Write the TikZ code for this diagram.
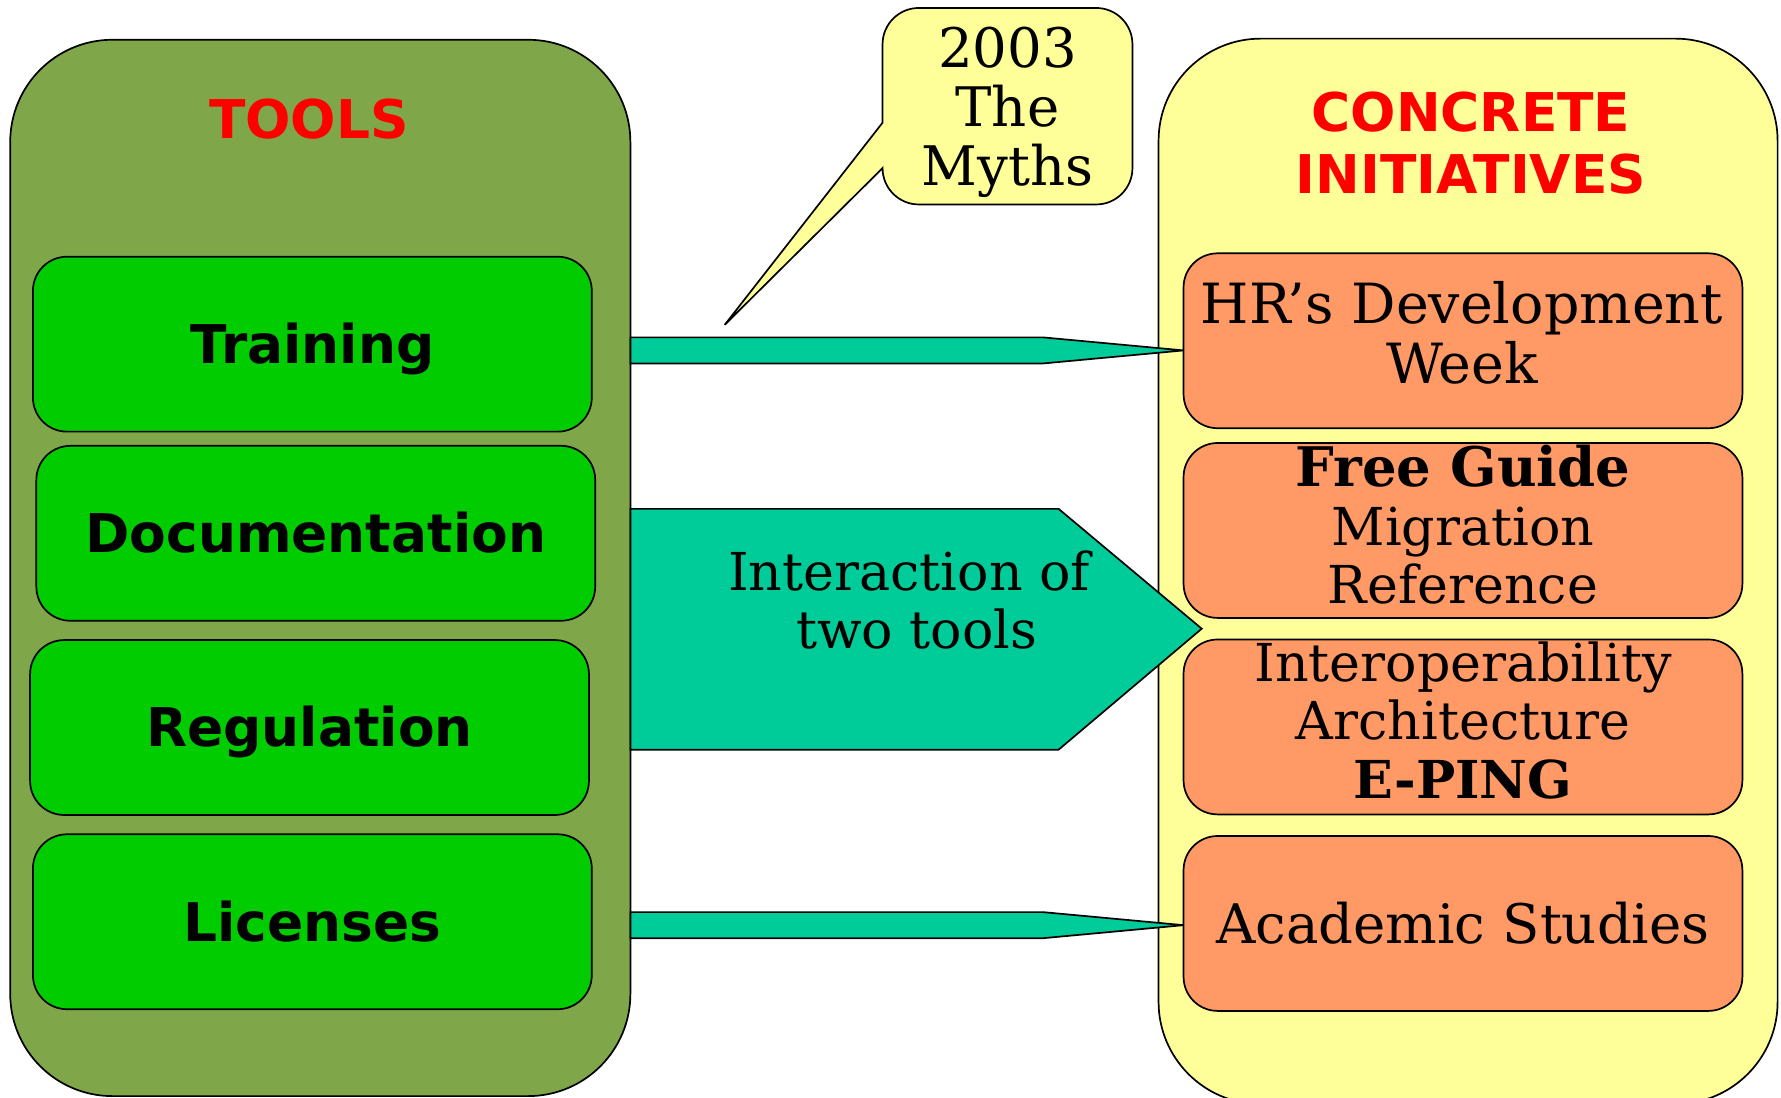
\documentclass[tikz,border=0pt]{standalone}
\usepackage{fontspec}
\setmainfont{DejaVu Serif}
\setsansfont{DejaVu Sans}
\usetikzlibrary{calc}
\definecolor{cOlive}{RGB}{128,166,74}
\definecolor{cGreen}{RGB}{0,204,0}
\definecolor{cYellow}{RGB}{255,255,153}
\definecolor{cSalmon}{RGB}{255,153,102}
\definecolor{cTeal}{RGB}{0,204,153}
\definecolor{cRed}{RGB}{255,0,0}
\begin{document}
\begin{tikzpicture}[x=0.5pt,y=-0.5pt,line width=0.75pt,
  every node/.style={inner sep=0pt, outer sep=0pt},
  container/.style={draw=black, rounded corners=45pt, minimum width=273pt},
  toolbox/.style={draw=black, fill=cGreen, rounded corners=15pt,
    minimum width=246pt, minimum height=77pt,
    font=\sffamily\bfseries\fontsize{23.5}{27.5}\selectfont,
    text height=17.1pt, text depth=0pt},
  initbox/.style={draw=black, fill=cSalmon, rounded corners=15pt,
    minimum width=246pt, minimum height=77pt},
  serif/.style={align=center, font=\fontsize{24}{26}\selectfont},
  serifsmall/.style={align=center, font=\fontsize{23}{25.7}\selectfont},
  serifone/.style={font=\fontsize{24}{26}\selectfont, text height=17.5pt, text depth=0pt},
  heading/.style={text=cRed, align=center, font=\sffamily\bfseries\fontsize{23.5}{27.5}\selectfont},
  blockarrow/.style={draw=black, fill=cTeal}
]
\useasboundingbox (0,0) rectangle (1568,965.8);
% containers
\node[container, fill=cOlive, minimum height=465pt] (tools) at (282,500) {};
\node[container, fill=cYellow, minimum width=272.5pt, minimum height=469pt] (init) at (1292.5,503) {};
% titles
\node[heading, text height=17.1pt, text depth=0pt] (toolstitle) at (272,105) {TOOLS};
\node[heading] (inittitle) at (1295,126) {CONCRETE\\INITIATIVES};
% tool boxes
\node[toolbox] (training) at (275,303) {Training};
\node[toolbox] (documentation) at (278,469.5) {Documentation};
\node[toolbox] (regulation) at (272.5,640.5) {Regulation};
\node[toolbox] (licenses) at (275,811.5) {Licenses};
% initiative boxes
\node[initbox] (hr) at (1288,300) {};
\node[initbox] (guide) at (1288,467) {};
\node[initbox] (interop) at (1288,640) {};
\node[initbox, serifone] (academic) at (1288,813) {Academic Studies};
\node[serif, font=\fontsize{24.4}{26}\selectfont] (hrtext) at (1287,293) {HR’s Development\\Week};
\node[serifsmall] (guidetext) at (1288,462) {{\fontsize{24}{25.7}\selectfont\bfseries Free Guide}\\Migration\\Reference};
\node[serifsmall] (interoptext) at (1288,634) {Interoperability\\Architecture\\\textbf{E-PING}};
% block arrows
\draw[blockarrow] (tools.east |- 0,297) -- (918,297) -- ([yshift=-4.25pt]hr.west) -- (918,320) -- (tools.east |- 0,320) -- cycle;
\coordinate (gap) at ($(guide.south west)!0.5!(interop.north west)$);
\draw[blockarrow] (tools.east |- 0,448) -- (932,448) -- ([xshift=8pt]gap) -- (932,660) -- (tools.east |- 0,660) -- cycle;
\node[serifsmall] (interaction) at (800.5,528) {Interaction of\\\hspace*{6.5pt}two tools};
\draw[blockarrow] (tools.east |- 0,803) -- (918,803) -- ([yshift=-0.75pt]academic.west) -- (918,826) -- (tools.east |- 0,826) -- cycle;
% callout
\draw[draw=black, fill=cYellow] (777,108) -- (777,39) .. controls (777,21.3) and (791.3,7) .. (809,7) -- (965,7) .. controls (982.7,7) and (997,21.3) .. (997,39) -- (997,148) .. controls (997,165.7) and (982.7,180) .. (965,180) -- (809,180) .. controls (791.3,180) and (777,165.7) .. (777,148) -- (638,286) -- cycle;
\node[serif] (myths) at (887,99) {2003\\The\\Myths};
\end{tikzpicture}
\end{document}
